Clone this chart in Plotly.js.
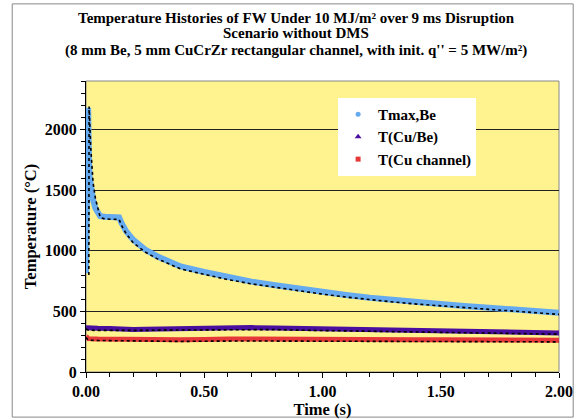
<!DOCTYPE html>
<html>
<head>
<meta charset="utf-8">
<script src="https://cdn.plot.ly/plotly-3.0.1.min.js"></script>
<style>html,body{margin:0;padding:0;background:#fff;}#chart{width:574px;height:420px;}</style>
</head>
<body>
<div id="chart"></div>
<script>
// ---- data ----
const tTmax = [0, 0.002, 0.004, 0.006, 0.008, 0.009, 0.010, 0.012, 0.015, 0.02, 0.03, 0.04, 0.05, 0.06, 0.08, 0.10, 0.12, 0.14, 0.15, 0.17, 0.2, 0.25, 0.3, 0.35, 0.4, 0.5, 0.6, 0.7, 0.8, 0.9, 1.0, 1.1, 1.2, 1.3, 1.4, 1.5, 1.6, 1.7, 1.8, 1.9, 2.0];
const tmaxBe = [815, 1100, 1450, 1800, 2100, 2180, 2050, 1800, 1620, 1520, 1420, 1350, 1310, 1285, 1280, 1280, 1280, 1275, 1230, 1160, 1090, 1010, 955, 910, 870, 825, 780, 745, 715, 685, 660, 635, 612, 592, 575, 560, 545, 530, 515, 500, 488];

const tTmaxRef = [0.012, 0.013, 0.016, 0.02, 0.025, 0.03, 0.04, 0.05, 0.06, 0.08, 0.10, 0.12, 0.14, 0.15, 0.17, 0.2, 0.25, 0.3, 0.35, 0.4, 0.5, 0.6, 0.7, 0.8, 0.9, 1.0, 1.1, 1.2, 1.3, 1.4, 1.5, 1.6, 1.7, 1.8, 1.9, 2.0];
const tmaxBeRef = [800, 2190, 2050, 1850, 1680, 1560, 1430, 1350, 1275, 1262, 1262, 1262, 1258, 1210, 1140, 1065, 990, 935, 890, 850, 805, 762, 727, 697, 668, 642, 618, 596, 577, 560, 545, 530, 516, 502, 488, 475];

const tCu = [0, 0.01, 0.05, 0.1, 0.15, 0.2, 0.25, 0.3, 0.4, 0.5, 0.55, 0.6, 0.7, 0.8, 0.9, 1.0, 1.1, 1.2, 1.3, 1.4, 1.5, 1.6, 1.7, 1.8, 1.9, 2.0];
const tCuBe = [365, 362, 360, 358, 352, 350, 352, 354, 356, 360, 365, 366, 366, 362, 358, 355, 352, 350, 348, 346, 343, 338, 333, 330, 327, 322];
const tCuBeRef = [355, 345, 343, 342, 340, 340, 343, 345, 346, 350, 352, 354, 354, 350, 345, 342, 340, 338, 336, 333, 330, 326, 322, 318, 315, 312];
const tCuCh = [295, 275, 272, 270, 268, 268, 268, 267, 267, 268, 272, 273, 272, 270, 270, 270, 268, 268, 268, 267, 267, 266, 266, 264, 263, 262];
const tCuChRef = [285, 262, 260, 258, 258, 258, 255, 252, 252, 254, 256, 256, 256, 255, 255, 254, 254, 253, 253, 252, 252, 250, 250, 250, 249, 248];

const seriesNames = ["Tmax,Be", "T(Cu/Be)", "T(Cu channel)"];
const titleLines = [
  "Temperature Histories of FW Under 10 MJ/m² over 9 ms Disruption",
  "Scenario without DMS",
  "(8 mm Be, 5 mm CuCrZr rectangular channel, with init. q'' = 5 MW/m²)"
];
const xTickVals = [0, 0.5, 1.0, 1.5, 2.0];
const xTickText = ["0.00", "0.50", "1.00", "1.50", "2.00"];

// ---- styling ----
const FONT = "Liberation Serif, Times New Roman, serif";
const cBlue = "#66aaf0", cPurple = "#4b0fa0", cRed = "#e63838";

const traces = [
  {x: tTmax, y: tmaxBe, mode: "lines", line: {color: cBlue, width: 6}, showlegend: false},
  {x: tCu, y: tCuBe, mode: "lines", line: {color: cPurple, width: 5}, showlegend: false},
  {x: tCu, y: tCuCh, mode: "lines", line: {color: cRed, width: 5}, showlegend: false},
  {x: tTmaxRef, y: tmaxBeRef, mode: "lines", line: {color: "#000", width: 1.6, dash: "dot"}, showlegend: false},
  {x: tCu, y: tCuBeRef, mode: "lines", line: {color: "#000", width: 1.6, dash: "dot"}, showlegend: false},
  {x: tCu, y: tCuChRef, mode: "lines", line: {color: "#000", width: 1.6, dash: "dot"}, showlegend: false},
  {x: [null], y: [null], mode: "markers", name: seriesNames[0], legendgroup: "a", marker: {color: cBlue, symbol: "circle", size: 5}},
  {x: [null], y: [null], mode: "markers", name: seriesNames[1], legendgroup: "b", marker: {color: cPurple, symbol: "triangle-up", size: 6}},
  {x: [null], y: [null], mode: "markers", name: seriesNames[2], legendgroup: "c", marker: {color: cRed, symbol: "square", size: 5}}
];

const titleY = [1.2165, 1.165, 1.1065];
const annotations = titleLines.map((t, i) => ({
  text: t, xref: "paper", yref: "paper", x: 0.444, y: titleY[i],
  xanchor: "center", yanchor: "middle", showarrow: false,
  font: {family: FONT, size: 15, weight: "bold", color: "#000"}
}));

const layout = {
  width: 574, height: 420,
  margin: {l: 86, r: 15, t: 81, b: 48},
  paper_bgcolor: "#ffffff",
  plot_bgcolor: "#fff38f",
  font: {family: FONT, size: 16, color: "#000"},
  annotations: annotations,
  xaxis: {
    range: [0, 2], tickvals: xTickVals, ticktext: xTickText,
    showgrid: false, zeroline: false,
    showline: true, linecolor: "#000", linewidth: 1,
    ticks: "outside", ticklen: 5, tickcolor: "#000",
    minor: {dtick: 0.1, ticks: "outside", ticklen: 4, tickcolor: "#000", showgrid: false},
    tickfont: {family: FONT, size: 16, weight: "bold"},
    title: {text: "Time (s)", font: {family: FONT, size: 16.5, weight: "bold"}, standoff: 2}
  },
  yaxis: {
    range: [0, 2400], dtick: 500, tick0: 0,
    showgrid: true, gridcolor: "#222", gridwidth: 1, zeroline: false,
    showline: true, linecolor: "#000", linewidth: 1,
    ticks: "outside", ticklen: 5, tickcolor: "#000",
    minor: {dtick: 100, ticks: "outside", ticklen: 4, tickcolor: "#000", showgrid: false},
    tickfont: {family: FONT, size: 16, weight: "bold"},
    title: {text: "Temperature (°C)", font: {family: FONT, size: 16.5, weight: "bold"}, standoff: 4}
  },
  legend: {
    x: 0.533, y: 0.942, xanchor: "left", yanchor: "top",
    bgcolor: "#ffffff", borderwidth: 0,
    font: {family: FONT, size: 15, weight: "bold"},
    traceorder: "grouped", tracegroupgap: 0, itemwidth: 30
  },
  shapes: [
    {type: "rect", xref: "paper", yref: "paper", x0: 0, x1: 1, y0: 0, y1: 1, line: {color: "#888", width: 1}, layer: "below"},
    {type: "rect", xref: "paper", yref: "paper", x0: -0.156, x1: 1.03, y0: -0.155, y1: 1.265, line: {color: "#888", width: 1}, layer: "above"}
  ],
  showlegend: true
};

Plotly.newPlot("chart", traces, layout, {displayModeBar: false, staticPlot: true});
</script>
</body>
</html>
